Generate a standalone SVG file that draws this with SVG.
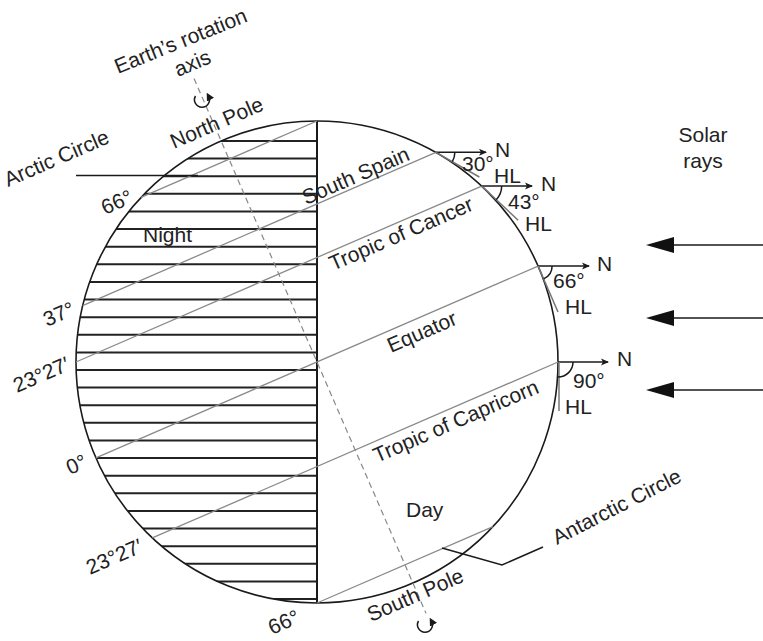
<svg xmlns="http://www.w3.org/2000/svg" width="763" height="641" viewBox="0 0 763 641">
  <style>
    text { font-family: "Liberation Sans", Arial, sans-serif; font-size: 21px; fill: #222; }
    .hatch { stroke: #222; stroke-width: 2; }
    .lat { stroke: #8a8a8a; stroke-width: 1.3; fill: none; }
    .hl { stroke: #777; stroke-width: 1.5; fill: none; }
    .ink { stroke: #1a1a1a; stroke-width: 1.5; fill: none; }
    .axis { stroke: #888; stroke-width: 1.2; stroke-dasharray: 6 4; fill: none; }
  </style>
  <defs>
    <clipPath id="globe-clip">
      <circle cx="317" cy="362" r="241"/>
    </clipPath>
    <marker id="north-head" viewBox="0 0 8 8" refX="7" refY="4" markerWidth="8" markerHeight="8" markerUnits="userSpaceOnUse" orient="auto">
      <path d="M0,0.5 L8,4 L0,7.5 L2,4 Z" fill="#1a1a1a"/>
    </marker>
    <marker id="spin-head" viewBox="0 0 8 8" refX="4" refY="4" markerWidth="8" markerHeight="8" markerUnits="userSpaceOnUse" orient="auto">
      <path d="M0,0 L8,4 L0,8 Z" fill="#1a1a1a"/>
    </marker>
    <marker id="ray-head" viewBox="0 0 28 16" refX="28" refY="8" markerWidth="28" markerHeight="16" markerUnits="userSpaceOnUse" orient="auto">
      <path d="M0,8 L28,0 L28,16 Z" fill="#111"/>
    </marker>
  </defs>

  <!-- Night half: horizontal hatching clipped to the globe -->
  <g id="night-side" clip-path="url(#globe-clip)">
    <line class="hatch" x1="70" y1="141.0" x2="317" y2="141.0"/>
    <line class="hatch" x1="70" y1="158.6" x2="317" y2="158.6"/>
    <line class="hatch" x1="70" y1="176.2" x2="317" y2="176.2"/>
    <line class="hatch" x1="70" y1="193.8" x2="317" y2="193.8"/>
    <line class="hatch" x1="70" y1="211.5" x2="317" y2="211.5"/>
    <line class="hatch" x1="70" y1="229.1" x2="317" y2="229.1"/>
    <line class="hatch" x1="70" y1="246.7" x2="317" y2="246.7"/>
    <line class="hatch" x1="70" y1="264.3" x2="317" y2="264.3"/>
    <line class="hatch" x1="70" y1="281.9" x2="317" y2="281.9"/>
    <line class="hatch" x1="70" y1="299.5" x2="317" y2="299.5"/>
    <line class="hatch" x1="70" y1="317.2" x2="317" y2="317.2"/>
    <line class="hatch" x1="70" y1="334.8" x2="317" y2="334.8"/>
    <line class="hatch" x1="70" y1="352.4" x2="317" y2="352.4"/>
    <line class="hatch" x1="70" y1="370.0" x2="317" y2="370.0"/>
    <line class="hatch" x1="70" y1="387.6" x2="317" y2="387.6"/>
    <line class="hatch" x1="70" y1="405.2" x2="317" y2="405.2"/>
    <line class="hatch" x1="70" y1="422.8" x2="317" y2="422.8"/>
    <line class="hatch" x1="70" y1="440.5" x2="317" y2="440.5"/>
    <line class="hatch" x1="70" y1="458.1" x2="317" y2="458.1"/>
    <line class="hatch" x1="70" y1="475.7" x2="317" y2="475.7"/>
    <line class="hatch" x1="70" y1="493.3" x2="317" y2="493.3"/>
    <line class="hatch" x1="70" y1="510.9" x2="317" y2="510.9"/>
    <line class="hatch" x1="70" y1="528.5" x2="317" y2="528.5"/>
    <line class="hatch" x1="70" y1="546.2" x2="317" y2="546.2"/>
    <line class="hatch" x1="70" y1="563.8" x2="317" y2="563.8"/>
    <line class="hatch" x1="70" y1="581.4" x2="317" y2="581.4"/>
    <line class="hatch" x1="70" y1="599.0" x2="317" y2="599.0"/>
  </g>

  <!-- Globe outline and day/night terminator -->
  <g id="globe">
    <circle cx="317" cy="362" r="241" fill="none" stroke="#1a1a1a" stroke-width="1.6"/>
    <line x1="317" y1="121" x2="317" y2="603" stroke="#1a1a1a" stroke-width="2"/>
  </g>

  <!-- Parallels and rotation axis, drawn in the tilted frame (23°27') -->
  <g id="parallels" transform="rotate(-23.45 317 362)">
    <line class="lat" x1="221.1" y1="140.9" x2="412.9" y2="140.9"/>
    <line class="lat" x1="124.5" y1="217.0" x2="509.5" y2="217.0"/>
    <line class="lat" x1="95.9" y1="266.1" x2="538.1" y2="266.1"/>
    <line class="lat" x1="76" y1="362" x2="558" y2="362"/>
    <line class="lat" x1="95.9" y1="457.9" x2="538.1" y2="457.9"/>
    <line class="lat" x1="221.1" y1="583.1" x2="412.9" y2="583.1"/>
    <line id="rotation-axis" class="axis" x1="317" y1="53" x2="317" y2="636"/>
  </g>

  <!-- Spin indicators at the poles -->
  <g id="north-spin">
    <path class="ink" d="M195.5,96 A7.5,7.5 0 1 0 208.6,96.2" stroke-width="1.4" marker-end="url(#spin-head)"/>
  </g>
  <g id="south-spin">
    <path class="ink" d="M418.5,621 A7.5,7.5 0 1 0 431.6,621.2" stroke-width="1.4" marker-end="url(#spin-head)"/>
  </g>

  <!-- Sun elevation markers on the day side -->
  <g id="marker-south-spain">
    <line class="ink" x1="435.85" y1="152.35" x2="486" y2="152.35" marker-end="url(#north-head)"/>
    <line class="hl" x1="435.85" y1="152.35" x2="479.35" y2="177.0"/>
    <path class="ink" stroke-width="1.2" d="M454.85,152.35 A19,19 0 0 1 452.38,161.72"/>
    <text x="462" y="171">30°</text>
    <text x="494" y="183">HL</text>
    <text x="495" y="157">N</text>
  </g>
  <g id="marker-cancer">
    <line class="ink" x1="481.67" y1="186.02" x2="532" y2="186.02" marker-end="url(#north-head)"/>
    <line class="hl" x1="481.67" y1="186.02" x2="518.18" y2="220.18"/>
    <path class="ink" stroke-width="1.2" d="M501.67,186.02 A20,20 0 0 1 496.27,199.69"/>
    <text x="508" y="209">43°</text>
    <text x="525" y="231">HL</text>
    <text x="541" y="191">N</text>
  </g>
  <g id="marker-equator">
    <line class="ink" x1="538.1" y1="266.09" x2="589" y2="266.09" marker-end="url(#north-head)"/>
    <line class="hl" x1="538.1" y1="266.09" x2="558" y2="311.96"/>
    <path class="ink" stroke-width="1.2" d="M552.1,266.09 A14,14 0 0 1 543.67,278.93"/>
    <text x="553" y="288">66°</text>
    <text x="565" y="314">HL</text>
    <text x="597" y="271">N</text>
  </g>
  <g id="marker-capricorn">
    <line class="ink" x1="558" y1="362" x2="608" y2="362" marker-end="url(#north-head)"/>
    <line class="hl" x1="559" y1="362" x2="559" y2="411"/>
    <path class="ink" stroke-width="1.2" d="M573,362 A15,15 0 0 1 558,377"/>
    <text x="573" y="388">90°</text>
    <text x="565" y="414">HL</text>
    <text x="617" y="366">N</text>
  </g>

  <!-- Incoming solar rays -->
  <g id="solar-rays">
    <text x="703" y="142" text-anchor="middle">Solar</text>
    <text x="703" y="168" text-anchor="middle">rays</text>
  </g>

  <!-- Connectors: leaders and ray arrows -->
  <g id="connectors">
    <line class="ink" x1="76" y1="175.5" x2="198" y2="175.5" stroke-width="1.8"/>
    <polyline class="ink" points="442,548 502,565 543,547"/>
    <line class="ink" x1="674" y1="245" x2="763" y2="245" marker-start="url(#ray-head)"/>
    <line class="ink" x1="674" y1="318" x2="763" y2="318" marker-start="url(#ray-head)"/>
    <line class="ink" x1="674" y1="390" x2="763" y2="390" marker-start="url(#ray-head)"/>
  </g>

  <!-- Labels -->
  <g id="labels">
    <text transform="translate(118 74) rotate(-22)">Earth’s rotation</text>
    <text transform="translate(178 77) rotate(-23)">axis</text>
    <text transform="translate(174 149) rotate(-23.45)">North Pole</text>
    <text transform="translate(8 187) rotate(-23.45)">Arctic Circle</text>
    <text transform="translate(306 205) rotate(-23.45)">South Spain</text>
    <text transform="translate(333 271) rotate(-23.45)">Tropic of Cancer</text>
    <text transform="translate(391 353) rotate(-23.45)">Equator</text>
    <text transform="translate(377 463) rotate(-23.45)">Tropic of Capricorn</text>
    <text transform="translate(557 545) rotate(-27)">Antarctic Circle</text>
    <text transform="translate(371 622) rotate(-23.45)">South Pole</text>
    <text x="143" y="242">Night</text>
    <text x="406" y="517">Day</text>
    <text transform="translate(105 215) rotate(-23.45)">66°</text>
    <text transform="translate(47 327) rotate(-23.45)">37°</text>
    <text transform="translate(17 393) rotate(-23.45)">23°27′</text>
    <text transform="translate(70 475) rotate(-23.45)">0°</text>
    <text transform="translate(90 575) rotate(-23.45)">23°27′</text>
    <text transform="translate(272 635) rotate(-23.45)">66°</text>
  </g>
</svg>
